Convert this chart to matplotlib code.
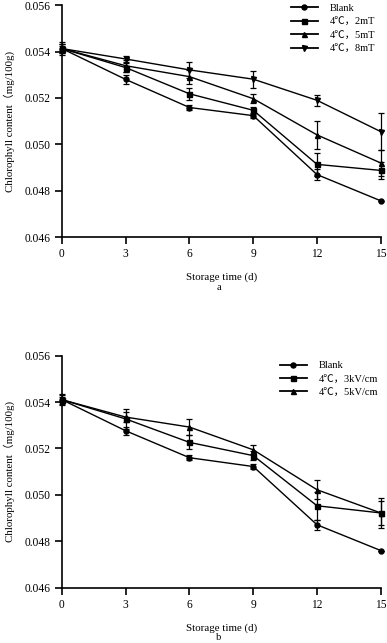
import matplotlib
matplotlib.use("Agg")
import matplotlib.pyplot as plt
from matplotlib.lines import Line2D

plt.rcParams['font.family'] = ['Liberation Serif', 'Noto Sans CJK SC', 'DejaVu Sans']

days = [0, 3, 6, 9, 12, 15]
xticks = [0, 3, 6, 9, 12, 15]
yticks = [0.046, 0.048, 0.050, 0.052, 0.054, 0.056]
ytick_labels = ["0.046", "0.048", "0.050", "0.052", "0.054", "0.056"]

# Panel a
a_labels = ["Blank", "4℃，2mT", "4℃，5mT", "4℃，8mT"]
a_blank = [0.05413, 0.05280, 0.05159, 0.05124, 0.04870, 0.04757]
a_2mT = [0.05413, 0.05331, 0.05218, 0.05147, 0.04914, 0.04888]
a_5mT = [0.05413, 0.05339, 0.05292, 0.05197, 0.05041, 0.04920]
a_8mT = [0.05413, 0.05368, 0.05321, 0.05281, 0.05190, 0.05055]
a_blank_err = [0.00010, 0.00020, 0.00012, 0.00012, 0.00025, 0.00000]
a_2mT_err = [0.00020, 0.00020, 0.00025, 0.00015, 0.00050, 0.00035]
a_5mT_err = [0.00020, 0.00025, 0.00030, 0.00020, 0.00060, 0.00057]
a_8mT_err = [0.00028, 0.00012, 0.00036, 0.00036, 0.00025, 0.00080]

# Panel b
b_labels = ["Blank", "4℃，3kV/cm", "4℃，5kV/cm"]
b_blank = [0.05410, 0.05276, 0.05160, 0.05122, 0.04871, 0.04760]
b_3kV = [0.05410, 0.05327, 0.05226, 0.05169, 0.04953, 0.04922]
b_5kV = [0.05410, 0.05335, 0.05292, 0.05194, 0.05022, 0.04922]
b_blank_err = [0.00010, 0.00018, 0.00012, 0.00012, 0.00022, 0.00000]
b_3kV_err = [0.00025, 0.00043, 0.00030, 0.00020, 0.00060, 0.00065]
b_5kV_err = [0.00020, 0.00020, 0.00035, 0.00020, 0.00040, 0.00050]

markers_a = ['o', 's', '^', 'v']
markers_b = ['o', 's', '^']

fig = plt.figure(figsize=(3.87, 6.43), dpi=100)
ax1 = fig.add_axes([0.160, 0.631, 0.824, 0.361])
ax2 = fig.add_axes([0.160, 0.086, 0.824, 0.361])

def draw(ax, series, errs, labels, markers, legend_anchor):
    handles = []
    for y, e, lab, m in zip(series, errs, labels, markers):
        ax.errorbar(days, y, yerr=e, color='black', lw=1.0, marker=m,
                    markersize=3.6, capsize=2.2, elinewidth=0.9,
                    capthick=0.9, clip_on=False, zorder=3)
        handles.append(Line2D([], [], color='black', lw=1.3, marker=m,
                              markersize=3.6))
    ax.set_xlim(0, 15)
    ax.set_ylim(0.046, 0.056)
    ax.set_xticks(xticks)
    ax.set_xticklabels([str(t) for t in xticks])
    ax.set_yticks(yticks)
    ax.set_yticklabels(ytick_labels)
    for s in ['top', 'right']:
        ax.spines[s].set_visible(False)
    for s in ['left', 'bottom']:
        ax.spines[s].set_linewidth(1.2)
    ax.tick_params(axis='both', direction='out', length=5, width=1.2,
                   labelsize=8.3, pad=3)
    ax.set_xlabel("Storage time (d)", fontsize=7.8, labelpad=9)
    ax.set_ylabel("Chlorophyll content（mg/100g)", fontsize=7.8, labelpad=7)
    ax.legend(handles=handles, labels=labels, loc='upper left',
              bbox_to_anchor=legend_anchor, frameon=False, fontsize=7.5,
              handlelength=2.6, handletextpad=1.1, labelspacing=0.4,
              borderaxespad=0)

draw(ax1, [a_blank, a_2mT, a_5mT, a_8mT],
     [a_blank_err, a_2mT_err, a_5mT_err, a_8mT_err],
     a_labels, markers_a, (0.705, 1.025))
draw(ax2, [b_blank, b_3kV, b_5kV],
     [b_blank_err, b_3kV_err, b_5kV_err],
     b_labels, markers_b, (0.67, 0.995))

fig.text(0.565, 1 - 287/643, "a", ha='center', va='center', fontsize=7.5)
fig.text(0.565, 1 - 637/643, "b", ha='center', va='center', fontsize=7.5)

fig.savefig("out.png", dpi=100)
